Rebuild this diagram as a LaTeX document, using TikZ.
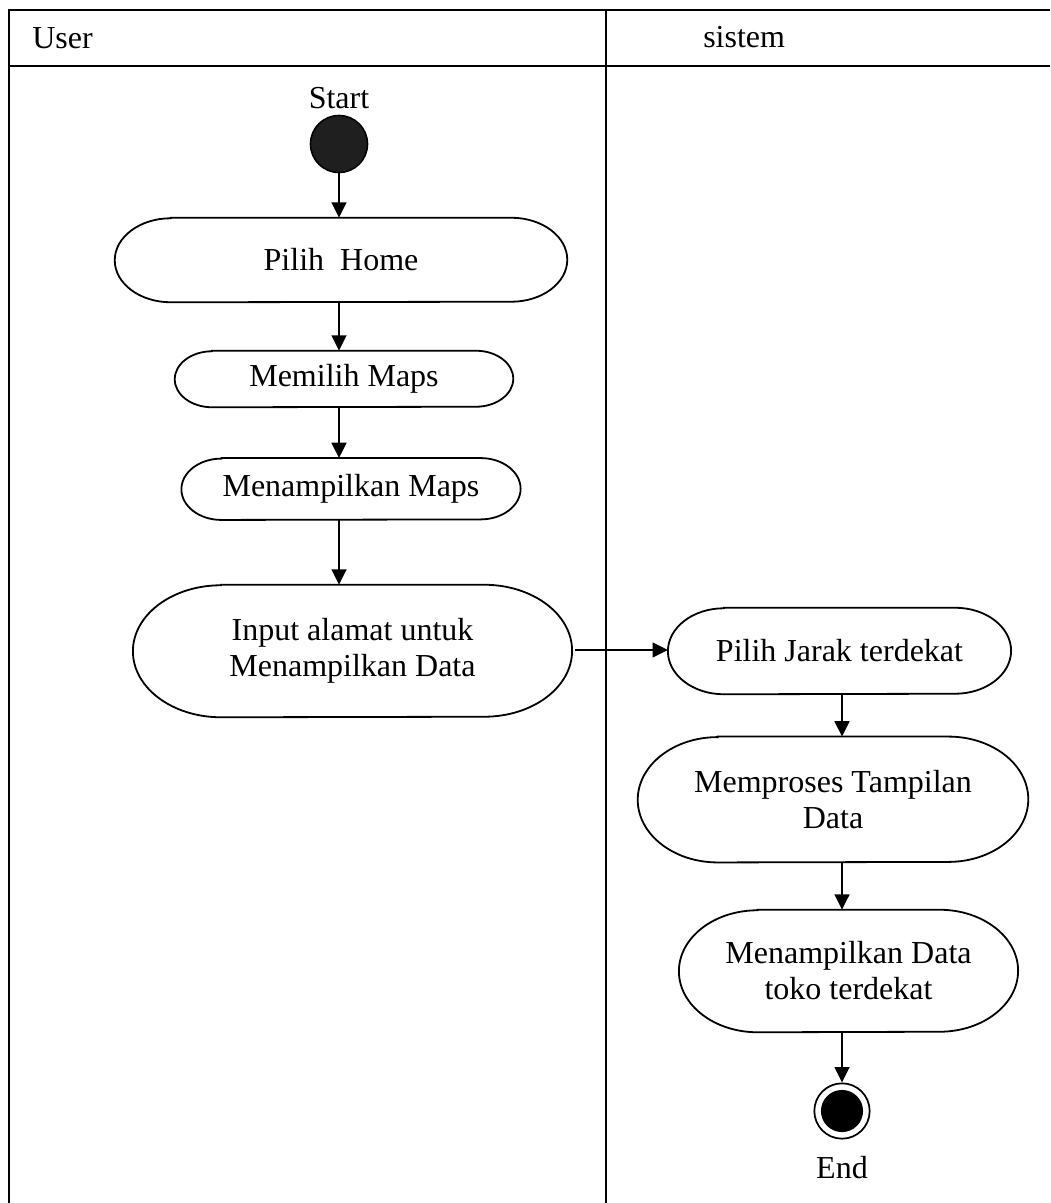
\documentclass[tikz,border=0pt]{standalone}
\usepackage{fontspec}
\setmainfont{Liberation Serif}
\usetikzlibrary{arrows.meta}
% outline of an activity: straight top and bottom, elliptical ends
\newcommand\actoutline[3]{%
  \draw[actline] ([xshift=#2]#1.north west) -- ([xshift=-#2]#1.north east)
    arc[start angle=90, end angle=-90, x radius=#2, y radius=#3]
    -- ([xshift=#2]#1.south west)
    arc[start angle=270, end angle=90, x radius=#2, y radius=#3] -- cycle;}
\begin{document}
\begin{tikzpicture}[x=0.75pt,y=-0.75pt,
  lane/.style={line width=1.7pt},
  txt/.style={font=\fontsize{24}{27}\selectfont, inner sep=0pt},
  act/.style={align=center, inner sep=0pt, font=\fontsize{24}{27}\selectfont},
  actline/.style={line width=1.35pt},
  flow/.style={line width=1.8pt, -{Triangle[length=11.5pt,width=11pt]}}]
\useasboundingbox (0,0) rectangle (1050,1203);

% swimlane frame
\draw[lane] (1050,10) -- (9,10) -- (9,1203);
\draw[lane] (9,66) -- (1050,66);
\draw[lane] (606,10) -- (606,1203);
\node[txt, anchor=base west] (user) at (32,48) {User};
\node[txt, anchor=base west] (sistem) at (703,47) {sistem};

% user lane
\node[circle, draw, line width=1.2pt, fill=black!88, minimum size=42.75pt, inner sep=0pt] (start) at (339,144) {};
\node[txt, anchor=base] (startlbl) at (339,108) {Start};
\node[act, minimum width=339pt, minimum height=63pt] (home) at (341,260) {Pilih\ \ Home};
\node[act, minimum width=253.5pt, minimum height=42pt] (maps1) at (344,379) {Memilih Maps};
\node[act, minimum width=254pt, minimum height=46pt] (maps2) at (351,489) {Menampilkan Maps};
\node[act, minimum width=329pt, minimum height=99pt] (input) at (352.5,651) {Input alamat untuk\\Menampilkan Data};
\actoutline{home}{42pt}{31.5pt}
\actoutline{maps1}{28pt}{21pt}
\actoutline{maps2}{30pt}{23pt}
\actoutline{input}{66pt}{49.5pt}

% system lane
\node[act, minimum width=257pt, minimum height=64.5pt] (jarak) at (839.5,651) {Pilih Jarak terdekat};
\node[act, minimum width=292.5pt, minimum height=94pt] (proc) at (833,799.5) {Memproses Tampilan\\Data};
\node[act, minimum width=254pt, minimum height=91.5pt] (show) at (848.5,971) {Menampilkan Data\\toko terdekat};
\actoutline{jarak}{42pt}{32.25pt}
\actoutline{proc}{60pt}{47pt}
\actoutline{show}{59pt}{45.75pt}
\node[circle, draw, line width=1.3pt, minimum size=41.5pt, inner sep=0pt] (end) at (842,1111) {};
\fill (end.center) circle[radius=15.8pt];
\node[txt, anchor=base] (endlbl) at (842,1178) {End};

% control flow
\draw[flow] (start) -- (home.north -| start);
\draw[flow] (home.south -| start) -- (maps1.north -| start);
\draw[flow] (maps1.south -| start) -- (maps2.north -| start);
\draw[flow] (maps2.south -| start) -- (input.north -| start);
\draw[flow] (input.east) ++(3,-1) coordinate (inout) -- (inout -| jarak.west);
\draw[flow] (jarak.south -| end) -- (proc.north -| end);
\draw[flow] (proc.south -| end) -- (show.north -| end);
\draw[flow] (show.south -| end) -- (end);
\end{tikzpicture}
\end{document}
